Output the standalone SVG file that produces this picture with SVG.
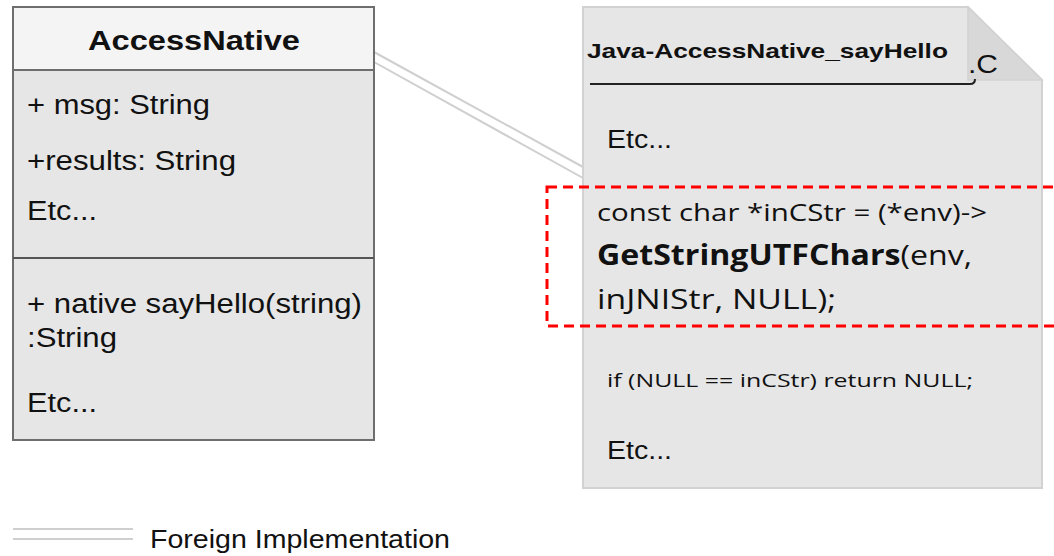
<svg xmlns="http://www.w3.org/2000/svg" width="1054" height="556" viewBox="0 0 1054 556">
<style>
.a{font-family:"Liberation Sans",Arial,sans-serif;fill:#111}
.c{font-family:"Open Sans","Noto Sans",sans-serif;fill:#111}
.conn{fill:none;stroke:#cfcfcf;stroke-width:2}
</style>
<rect width="1054" height="556" fill="#fff"/>
<g id="connectors">
<line class="conn" x1="374" y1="52" x2="583" y2="167"/>
<line class="conn" x1="374" y1="62" x2="583" y2="178"/>
</g>
<g id="AccessNative">
<rect x="13" y="7" width="361" height="433" fill="#e6e6e6" stroke="#6e6e6e" stroke-width="2"/>
<rect x="13" y="7" width="361" height="63" fill="#f4f4f4" stroke="#6e6e6e" stroke-width="2"/>
<line x1="13" y1="258" x2="374" y2="258" stroke="#555" stroke-width="2"/>
<text class="a" x="88" y="50" font-size="27" font-weight="bold" fill="#333" textLength="212" lengthAdjust="spacingAndGlyphs">AccessNative</text>
<text class="a" x="27" y="114" font-size="27" textLength="183" lengthAdjust="spacingAndGlyphs">+ msg: String</text>
<text class="a" x="27" y="170" font-size="27" textLength="209" lengthAdjust="spacingAndGlyphs">+results: String</text>
<text class="a" x="27" y="220" font-size="27" textLength="70" lengthAdjust="spacingAndGlyphs">Etc...</text>
<text class="a" x="27" y="313" font-size="27" textLength="335" lengthAdjust="spacingAndGlyphs">+ native sayHello(string)</text>
<text class="a" x="27" y="347" font-size="27" textLength="90" lengthAdjust="spacingAndGlyphs">:String</text>
<text class="a" x="27" y="412" font-size="27" textLength="70" lengthAdjust="spacingAndGlyphs">Etc...</text>
</g>
<g id="CFile">
<path d="M583 7 H968 L1042 80 V488 H583 Z" fill="#e6e6e6" stroke="#d2d2d2" stroke-width="2"/>
<path d="M968 7 V80 H1042 Z" fill="#d8d8d8" stroke="#d2d2d2" stroke-width="1.5"/>
<text class="a" x="587" y="58" font-size="21" font-weight="bold" textLength="361" lengthAdjust="spacingAndGlyphs">Java-AccessNative_sayHello</text>
<text class="a" x="968" y="73" font-size="26" textLength="30" lengthAdjust="spacingAndGlyphs">.C</text>
<path d="M590 84 H970 Q975 84 975 79" fill="none" stroke="#222" stroke-width="2"/>
<text class="a" x="607" y="148" font-size="26" textLength="65" lengthAdjust="spacingAndGlyphs">Etc...</text>
<text class="c" x="597" y="221" font-size="24" textLength="390" lengthAdjust="spacingAndGlyphs">const char *inCStr = (*env)-&gt;</text>
<text class="c" x="597" y="265" font-size="28" textLength="375" lengthAdjust="spacingAndGlyphs"><tspan font-weight="bold">GetStringUTFChars</tspan>(env,</text>
<text class="c" x="597" y="309" font-size="28" textLength="239" lengthAdjust="spacingAndGlyphs">inJNIStr, NULL);</text>
<text class="c" x="607" y="387" font-size="18" textLength="366" lengthAdjust="spacingAndGlyphs">if (NULL == inCStr) return NULL;</text>
<text class="a" x="607" y="459" font-size="26" textLength="65" lengthAdjust="spacingAndGlyphs">Etc...</text>
</g>
<g id="highlight">
<rect x="547" y="187" width="520" height="139" fill="none" stroke="#ff0000" stroke-width="3" stroke-dasharray="10 6"/>
</g>
<g id="legend">
<line x1="13" y1="529" x2="133" y2="529" stroke="#cfcfcf" stroke-width="2"/>
<line x1="13" y1="539" x2="133" y2="539" stroke="#cfcfcf" stroke-width="2"/>
<text class="a" x="150" y="548" font-size="26" textLength="300" lengthAdjust="spacingAndGlyphs">Foreign Implementation</text>
</g>
</svg>
